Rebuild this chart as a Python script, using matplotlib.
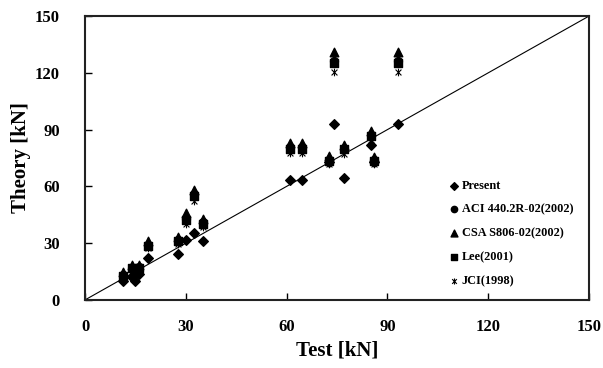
import matplotlib
matplotlib.use("Agg")
from matplotlib import pyplot as plt
from matplotlib.path import Path

plt.rcParams['font.family'] = ['Liberation Serif', 'DejaVu Serif']
plt.rcParams['font.weight'] = 'bold'

# Test loads [kN] and the predicted loads of each method
test = [11.3, 14.0, 15.0, 16.0, 18.7, 27.6, 29.9, 32.5, 35.0,
        61.0, 64.5, 72.7, 74.0, 77.0, 85.0, 86.0, 93.0]
present = [10, 12, 10, 13.5, 22, 24.3, 31.5, 35.2, 31.2,
           63.4, 63.4, 73, 93, 64.3, 82, 73, 93]
aci = [13, 17, 15, 17.5, 29, 31.5, 43, 56, 41,
       81, 81, 74, 126, 80, 87, 74, 126]
csa = [14.5, 18.5, 16, 18.5, 31, 33, 46, 58, 42.5,
       83, 83, 76, 131, 82, 89, 75.5, 131]
lee = [12.5, 17, 15, 17, 28.5, 31, 42, 55, 40,
       80, 80, 73.5, 125, 79.5, 86.5, 73.5, 125]
jci = [11.5, 15.5, 13.5, 16, 27.5, 29.5, 40, 52.5, 38.5,
       77.5, 77.5, 72, 120.5, 77, 84.5, 72, 120.5]

ticks = [0, 30, 60, 90, 120, 150]

# excel style star: x with a vertical bar
star = Path([(-1, -1), (1, 1), (-1, 1), (1, -1), (0, -1.3), (0, 1.3)],
            [Path.MOVETO, Path.LINETO, Path.MOVETO, Path.LINETO, Path.MOVETO, Path.LINETO])

fig = plt.figure(figsize=(6.03, 3.68), dpi=100)
ax = fig.add_axes([0.141, 0.185, 0.836, 0.7715])

ax.plot([0, 150], [0, 150], color='black', linewidth=0.8, zorder=1)
ax.scatter(test, present, marker='D', s=24, color='black', label='Present', zorder=3)
ax.scatter(test, aci, marker='o', s=32, color='black', label='ACI 440.2R-02(2002)', zorder=3)
ax.scatter(test, csa, marker='^', s=38, color='black', label='CSA S806-02(2002)', zorder=3)
ax.scatter(test, lee, marker='s', s=30, color='black', label='Lee(2001)', zorder=3)
ax.scatter(test, jci, marker=star, s=30, color='black', linewidths=0.8, label='JCI(1998)', zorder=3)

ax.set_xlim(0, 150)
ax.set_ylim(0, 150)
ax.set_xticks(ticks)
ax.set_yticks(ticks)
ax.tick_params(direction='in', length=5, width=1, labelsize=12, pad=14)
ax.tick_params(axis='y', pad=18)
for lab in ax.get_xticklabels() + ax.get_yticklabels():
    lab.set_fontweight('bold')
for sp in ax.spines.values():
    sp.set_linewidth(1.5)
    sp.set_color('#222222')

ax.set_xlabel("Test [kN]", fontsize=15, fontweight='bold', labelpad=4)
ax.set_ylabel("Theory [kN]", fontsize=15, fontweight='bold', labelpad=3)

leg = ax.legend(loc='lower right', bbox_to_anchor=(0.99, 0.006), frameon=False,
                prop={'size': 8.8, 'weight': 'bold'}, handletextpad=0.1,
                labelspacing=0.97, handlelength=1.0, markerscale=0.8)

fig.savefig("out.png", dpi=100)
